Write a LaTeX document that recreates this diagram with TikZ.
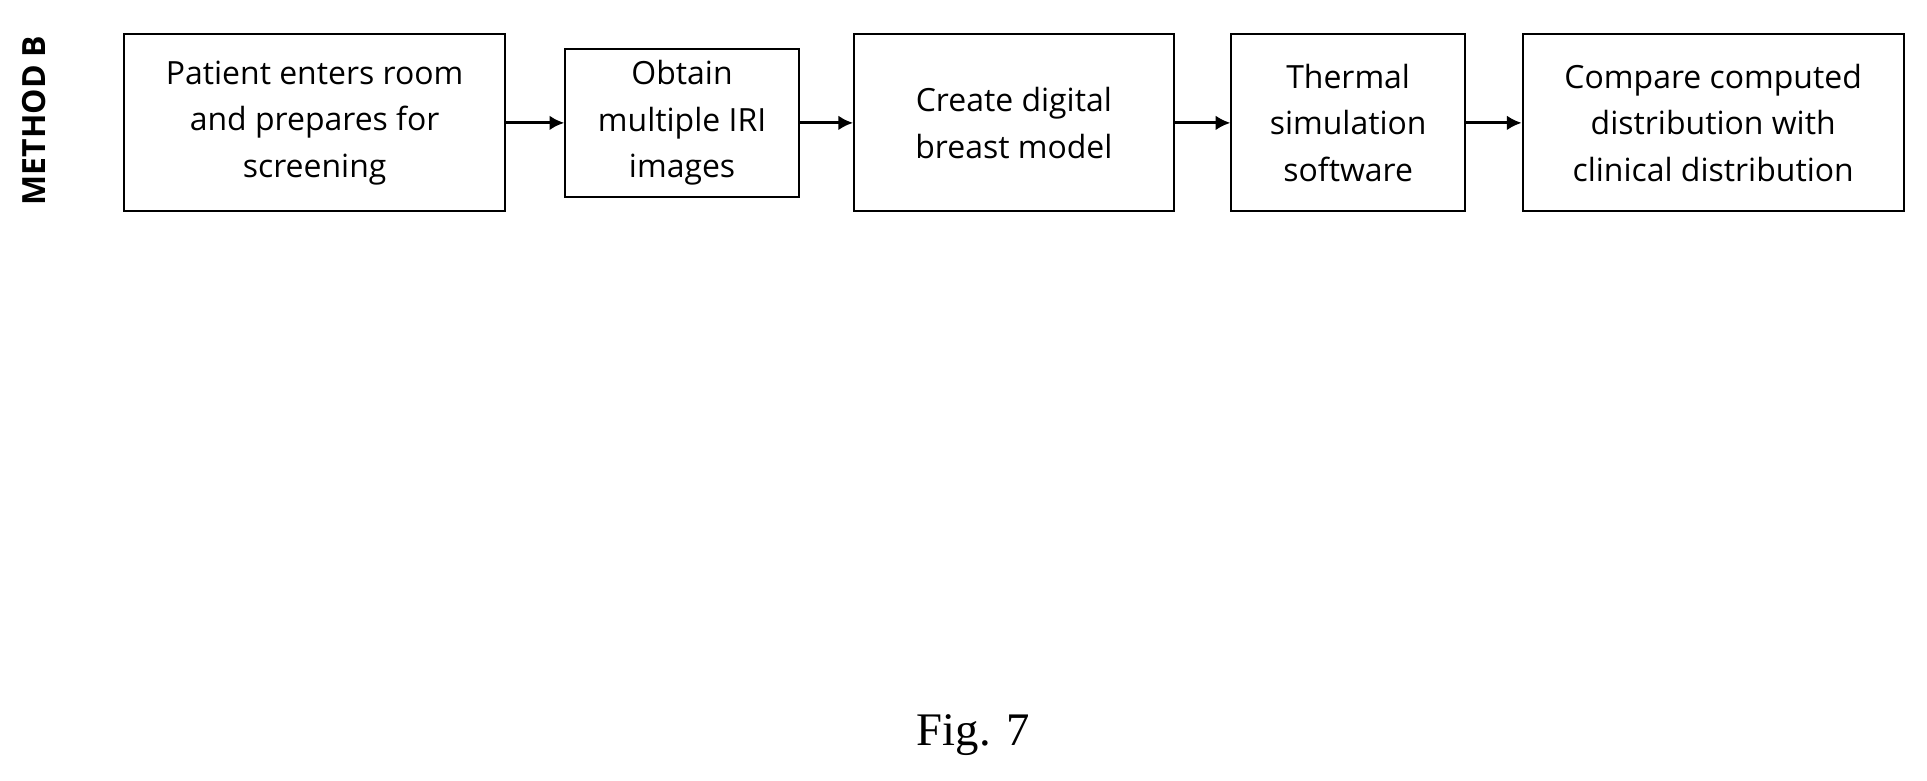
\documentclass[tikz,border=0pt]{standalone}
\usepackage{fontspec}
\setsansfont{Open Sans}
\newfontfamily\figfont{Liberation Serif}
\usetikzlibrary{positioning,arrows.meta}
\tikzset{
  stage/.style={draw, line width=0.8pt, align=center, font=\sffamily\fontsize{13}{19}\selectfont, inner sep=0pt},
  flow/.style={-{Latex[length=6pt,width=6pt]}, line width=1.2pt}
}
\begin{document}
\begin{tikzpicture}[x=0.5pt, y=-0.5pt]
  \useasboundingbox (0,0) rectangle (1568,635);
  \node[rotate=90, font=\sffamily\bfseries\fontsize{13}{15}\selectfont] (method) at (28,98) {METHOD B};
  \node[stage, minimum width=155pt, minimum height=72pt] (patient) at (256,100) {Patient enters room\\and prepares for\\screening};
  \node[stage, minimum width=95pt, minimum height=60pt] (obtain) at (555,100) {Obtain\\multiple IRI\\images};
  \node[stage, minimum width=130pt, minimum height=72pt] (model) at (825,100) {Create digital\\breast model};
  \node[stage, minimum width=95pt, minimum height=72pt] (thermal) at (1097,100) {Thermal\\simulation\\software};
  \node[stage, minimum width=155pt, minimum height=72pt] (compare) at (1394,100) {Compare computed\\distribution with\\clinical distribution};
  \node[font=\figfont\fontsize{19}{21}\selectfont] (fig) at (792,598) {Fig. 7};
  \draw[flow] (patient) -- (obtain);
  \draw[flow] (obtain) -- (model);
  \draw[flow] (model) -- (thermal);
  \draw[flow] (thermal) -- (compare);
\end{tikzpicture}
\end{document}
